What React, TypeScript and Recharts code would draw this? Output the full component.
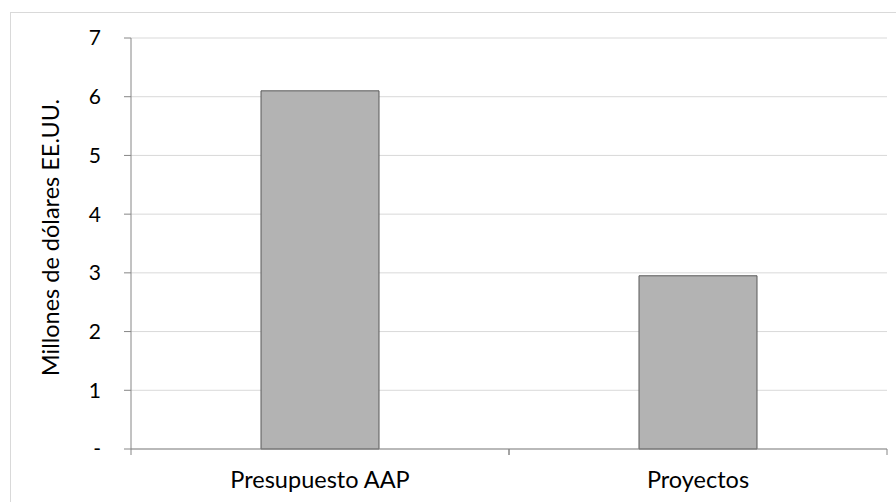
import React from 'react';
import { BarChart, Bar, XAxis, YAxis, CartesianGrid } from 'recharts';

const categories = ['Presupuesto AAP', 'Proyectos'];
const values = [6.1, 2.95];
const yTicks = [0, 1, 2, 3, 4, 5, 6, 7];
const yLabel = 'Millones de dólares EE.UU.';

const data = categories.map((c, i) => ({ name: c, value: values[i] }));

const FONT = 'Lato, "Open Sans", sans-serif';
const X_TICK_SIZE = 6;
const X_TICK_MARGIN = 16;

const CategoryTick = (props: any) => {
  const { x, y, payload } = props;
  const half = payload && typeof payload.offset === 'number' ? payload.offset : 0;
  const axisY = y - X_TICK_SIZE - X_TICK_MARGIN;
  return (
    <g>
      {half > 0 && (
        <>
          <line x1={x - half} x2={x - half} y1={axisY} y2={axisY + X_TICK_SIZE} stroke="#868686" />
          <line x1={x + half} x2={x + half} y1={axisY} y2={axisY + X_TICK_SIZE} stroke="#868686" />
        </>
      )}
      <text x={x} y={y} dy="0.71em" textAnchor="middle" fill="#000" fontSize={23.5} fontFamily={FONT}>
        {payload.value}
      </text>
    </g>
  );
};

export default function App() {
  return (
    <div style={{ position: 'fixed', left: 0, top: 0, width: 896, height: 502, background: '#fff', overflow: 'hidden' }}>
      <div style={{ position: 'absolute', left: 10, top: 12, width: 900, height: 520, border: '1px solid #d9d9d9' }} />
      <div style={{ position: 'absolute', left: 0, top: 0 }}>
        <BarChart width={896} height={502} data={data} margin={{ top: 38, right: 9, left: 0, bottom: 0 }} barCategoryGap={0}>
          <CartesianGrid horizontal vertical={false} stroke="#d9d9d9" strokeWidth={1} />
          <XAxis
            dataKey="name"
            height={53}
            axisLine={{ stroke: '#868686' }}
            tickLine={false}
            tickSize={X_TICK_SIZE}
            tickMargin={X_TICK_MARGIN}
            tick={<CategoryTick />}
          />
          <YAxis
            width={131}
            domain={[0, 7]}
            ticks={yTicks}
            interval={0}
            tickFormatter={(v: number) => (v === 0 ? '-' : String(v))}
            axisLine={{ stroke: '#868686' }}
            tickLine={{ stroke: '#868686' }}
            tickSize={7}
            tickMargin={23}
            tick={{ fill: '#000', fontSize: 21, fontFamily: FONT }}
            label={{ value: yLabel, angle: -90, position: 'insideLeft', dx: 46, dy: -6, style: { textAnchor: 'middle', fill: '#000', fontSize: 23.5, fontFamily: FONT } }}
          />
          <Bar dataKey="value" fill="#b3b3b3" stroke="#595959" strokeWidth={1} barSize={118} isAnimationActive={false} />
        </BarChart>
      </div>
    </div>
  );
}
